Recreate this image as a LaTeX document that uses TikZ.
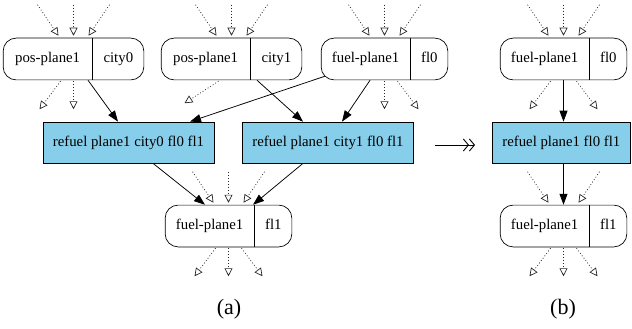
\documentclass[tikz,border=0pt]{standalone}
\usepackage{fontspec}
\setmainfont{Liberation Serif}
\usepackage{tikz}
\usetikzlibrary{arrows.meta, calc, shapes.multipart}

\definecolor{skyblue}{RGB}{135,206,235}
\newcommand{\nodefont}{\fontsize{14.8}{17.8}\selectfont}
\newcommand{\lpart}[1]{\makebox[89pt]{\nodefont\strut #1}}
\newcommand{\rpart}[2][37pt]{\makebox[#1]{\nodefont\strut #2}}

\tikzset{
  fluent/.style={draw, line width=0.7pt, rounded corners=13pt, rectangle split,
    rectangle split horizontal, rectangle split parts=2, inner xsep=0pt, inner ysep=12pt},
  action/.style={draw, line width=0.7pt, fill=skyblue, inner xsep=10pt,
    minimum height=41pt, font=\nodefont},
  prec/.style={line width=0.75pt, -{Triangle[length=11pt,width=8pt]}},
  noop/.style={black!85, line width=0.7pt, dash pattern=on 0.9pt off 2.1pt,
    -{Triangle[open,length=8pt,width=8pt]}}
}

\begin{document}
\begin{tikzpicture}[x=1pt, y=-1pt]
\useasboundingbox (0,0) rectangle (632,329);

% (a)
\node[fluent] (p0) at (73.5,59) {\lpart{pos-plane1}\nodepart{two}\rpart[51pt]{city0}};
\node[fluent] (p1) at (231.5,59) {\lpart{pos-plane1}\nodepart{two}\rpart[51pt]{city1}};
\node[fluent] (f0) at (384.5,59) {\lpart{fuel-plane1}\nodepart{two}\rpart{fl0}};
\node[action] (r0) at (128.5,142.5) {refuel plane1 city0 fl0 fl1};
\node[action] (r1) at (328,142.5) {refuel plane1 city1 fl0 fl1};
\node[fluent] (f1) at (228.5,226) {\lpart{fuel-plane1}\nodepart{two}\rpart{fl1}};

\draw[prec] ($(p0.south)+(14.5,0)$) -- ($(r0.north)+(-10.5,0)$);
\draw[prec] ($(p1.south)+(25.5,0)$) -- ($(r1.north)+(-25,0)$);
\draw[prec] ($(f0.south west)+(4,-4)$) -- ($(r0.north)+(61.5,0)$);
\draw[prec] ($(f0.south)+(-14.5,0)$) -- ($(r1.north)+(14,0)$);
\draw[prec] ($(r0.south)+(24.5,0)$) -- ($(f1.north)+(-23.5,0)$);
\draw[prec] ($(r1.south)+(-25,0)$) -- ($(f1.north)+(24.5,0)$);

% (b)
\node[fluent] (bf0) at (563.5,59) {\lpart{fuel-plane1}\nodepart{two}\rpart{fl0}};
\node[action, anchor=west] (br) at (492,142.5) {refuel plane1 fl0 fl1};
\node[fluent] (bf1) at (563.5,226) {\lpart{fuel-plane1}\nodepart{two}\rpart{fl1}};

\draw[prec] (bf0.south) -- (bf0.south |- br.north);
\draw[prec] (bf0.south |- br.south) -- (bf1.north);

% noop edges
\foreach \n in {p0,p1,f0,f1,bf0}
  \foreach \d in {-1,0,1}
    \draw[noop] ($(\n.north)+(36*\d,-33)$) -- ($(\n.north)+(15*\d,-2)$);
\foreach \d in {-1,1}
  \draw[noop] ($(bf1.north)+(36*\d,-33)$) -- ($(bf1.north)+(15*\d,-2)$);
\foreach \n/\d in {p0/-1,p0/0,f0/0,f0/1,f1/-1,f1/0,f1/1,bf0/-1,bf0/1,bf1/-1,bf1/0,bf1/1}
  \draw[noop] ($(\n.south)+(13*\d,1)$) -- ($(\n.south)+(34*\d,29)$);
\draw[noop] ($(p1.south)+(-13,1)$) -- ($(p1.south)+(-47,23)$);

% reduction arrow
\coordinate (m0) at (435,145);
\coordinate (m1) at (475,145);
\draw[line width=0.9pt, -{Straight Barb[length=5pt,width=12pt] Straight Barb[length=5pt,width=12pt]}] (m0) -- (m1);

\node[font=\fontsize{22}{26}\selectfont] (la) at (229,309) {(a)};
\node[font=\fontsize{22}{26}\selectfont] (lb) at (563,309) {(b)};
\end{tikzpicture}
\end{document}
